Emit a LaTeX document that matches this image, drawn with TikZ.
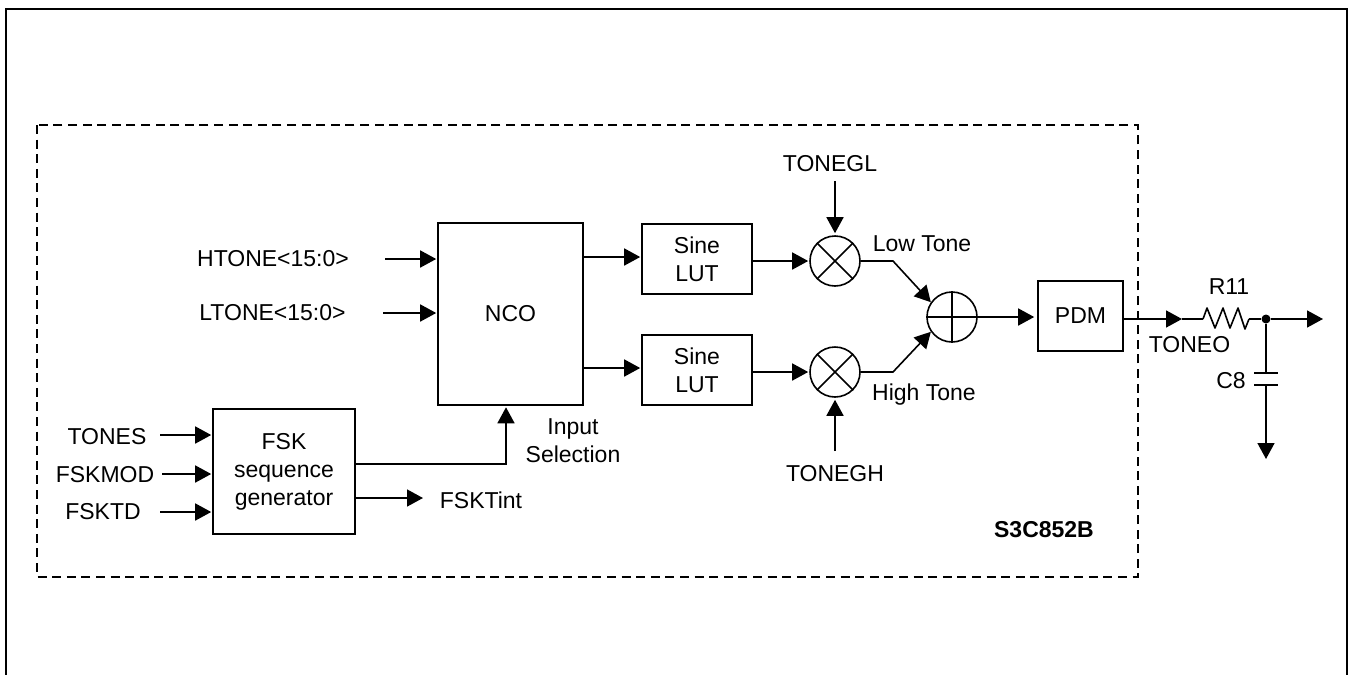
\documentclass[tikz,border=0pt]{standalone}
\usepackage{fontspec}
\setmainfont{Liberation Sans}
\usepackage{xcolor}
\usetikzlibrary{arrows.meta,positioning,calc}

\tikzset{
  blockbox/.style={draw, line width=1.6pt, inner sep=0pt, align=center},
  mixer/.style={draw, circle, line width=1.6pt, minimum size=50pt, inner sep=0pt},
  lab/.style={inner sep=0pt, text height=16pt, text depth=0pt},
  sig/.style={line width=1.6pt, -{Triangle[length=16pt,width=17pt]}},
  wire/.style={line width=1.6pt}
}

\begin{document}
\begin{tikzpicture}[x=1pt, y=-1pt, every node/.style={font=\fontsize{23pt}{28pt}\selectfont}]
\useasboundingbox (0,0) rectangle (1353,675);

% ======================================================================
% FRAMES
% ======================================================================
\draw[line width=2.4pt] (6,675) -- (6,9) -- (1347,9) -- (1347,675);
\draw[line width=1.6pt, dash pattern=on 9pt off 5.6pt] (37,125) rectangle (1138,577);

% ======================================================================
% BLOCKS
% ======================================================================
\node[blockbox, minimum width=145pt, minimum height=182pt] (nco) at (510.5,314) {NCO};
\node[blockbox, minimum width=110pt, minimum height=70pt] (lutL) at (697,259) {Sine\\LUT};
\node[blockbox, minimum width=110pt, minimum height=70pt] (lutH) at (697,370) {Sine\\LUT};
\node[blockbox, minimum width=142pt, minimum height=125pt] (fsk) at (284,471.5) {FSK\\sequence\\generator};
\node[blockbox, minimum width=85pt, minimum height=70pt] (pdm) at (1080.5,316) {PDM};

\node[mixer] (mulL) at (835,261) {};
\node[mixer] (mulH) at (835,372) {};
\node[mixer] (sum) at (952,317) {};
\draw[wire] (mulL.45) -- (mulL.225) (mulL.135) -- (mulL.315);
\draw[wire] (mulH.45) -- (mulH.225) (mulH.135) -- (mulH.315);
\draw[wire] (sum.north) -- (sum.south) (sum.west) -- (sum.east);

% ======================================================================
% LABELS
% ======================================================================
\node[lab] (htone) at (273,258) {HTONE<15:0>};
\node[lab] (ltone) at (272.5,312) {LTONE<15:0>};
\node[lab] (tones) at (107,436) {TONES};
\node[lab] (fskmod) at (105,474) {FSKMOD};
\node[lab] (fsktd) at (103,511) {FSKTD};
\node[lab] (fsktint) at (481,500) {FSKTint};
\node[inner sep=0pt, align=center] (input) at (573,441) {Input\\Selection};
\node[lab] (tonegl) at (830,163) {TONEGL};
\node[lab] (tonegh) at (835,473) {TONEGH};
\node[lab] (low) at (922,243) {Low Tone};
\node[lab] (high) at (924,392) {High Tone};
\node[lab] (toneo) at (1189.5,344) {TONEO};
\node[lab] (r11) at (1229,286) {R11};
\node[lab] (c8) at (1231,380) {C8};
\node[lab, font=\fontsize{23pt}{28pt}\selectfont\bfseries] (chip) at (1044,529) {S3C852B};

% ======================================================================
% INPUTS ON THE LEFT
% ======================================================================
\coordinate (htonein) at (385,259);
\coordinate (ltonein) at (383,313);
\coordinate (tonesin) at (160,435);
\coordinate (fskmodin) at (162,474);
\coordinate (fsktdin) at (160,512);
\draw[sig, shorten >=1pt] (htonein) -- (htonein -| nco.west);
\draw[sig, shorten >=1pt] (ltonein) -- (ltonein -| nco.west);
\draw[sig, shorten >=1pt] (tonesin) -- (tonesin -| fsk.west);
\draw[sig, shorten >=1pt] (fskmodin) -- (fskmodin -| fsk.west);
\draw[sig, shorten >=1pt] (fsktdin) -- (fsktdin -| fsk.west);

% FSK generator outputs
\coordinate (fskout) at (355,464);
\coordinate (tintend) at (423,498);
\coordinate (ncoin) at (506,464);
\draw[sig, shorten >=1.5pt] (fskout) -- (ncoin) -- (ncoin |- nco.south);
\draw[sig] (tintend -| fsk.east) -- (tintend);

% ======================================================================
% TONE PATHS
% ======================================================================
\coordinate (ncoL) at (583,257);
\coordinate (ncoH) at (583,368);
\draw[sig, shorten >=1pt] (ncoL) -- (ncoL -| lutL.west);
\draw[sig, shorten >=1pt] (ncoH) -- (ncoH -| lutH.west);
\draw[sig, shorten >=1pt] (lutL.east |- mulL) -- (mulL.west);
\draw[sig, shorten >=1pt] (lutH.east |- mulH) -- (mulH.west);

\coordinate (glin) at (835,181);
\coordinate (ghin) at (835,451);
\draw[sig, shorten >=2pt] (glin) -- (mulL.north);
\draw[sig, shorten >=2pt] (ghin) -- (mulH.south);

\coordinate (lowbend) at (893,261);
\coordinate (highbend) at (893,372);
\draw[sig] (mulL.east) -- (lowbend) -- (sum.145);
\draw[sig] (mulH.east) -- (highbend) -- (sum.215);
\draw[sig, shorten >=3pt] (sum.east) -- (pdm.west |- sum);

% ======================================================================
% OUTPUT FILTER
% ======================================================================
\coordinate (pdmout) at (1123,319);
\coordinate (toneotip) at (1182,319);
\coordinate (rin) at (1203,319);
\coordinate (rout) at (1249,319);
\coordinate (outend) at (1323,319);
\coordinate (capT) at (1266,373);
\coordinate (capB) at (1266,385);
\coordinate (gnd) at (1266,459);
\node[circle, fill, inner sep=0pt, minimum size=9pt] (dot) at (1266,319) {};

\draw[sig] (pdmout) -- (toneotip);
\draw[wire] (toneotip) -- (rin);
\draw[wire, line join=round] (rin) -- (1207,308) -- (1215,328) -- (1223,308) -- (1230,328)
  -- (1238,308) -- (1245,329) -- (rout);
\draw[wire] (rout) -- (dot);
\draw[sig] (dot) -- (outend);
\draw[wire] (dot) -- (capT);
\draw[wire] ($(capT)+(-12,0)$) -- ($(capT)+(12,0)$);
\draw[wire] ($(capB)+(-12,0)$) -- ($(capB)+(12,0)$);
\draw[sig] (capB) -- (gnd);

\end{tikzpicture}
\end{document}
